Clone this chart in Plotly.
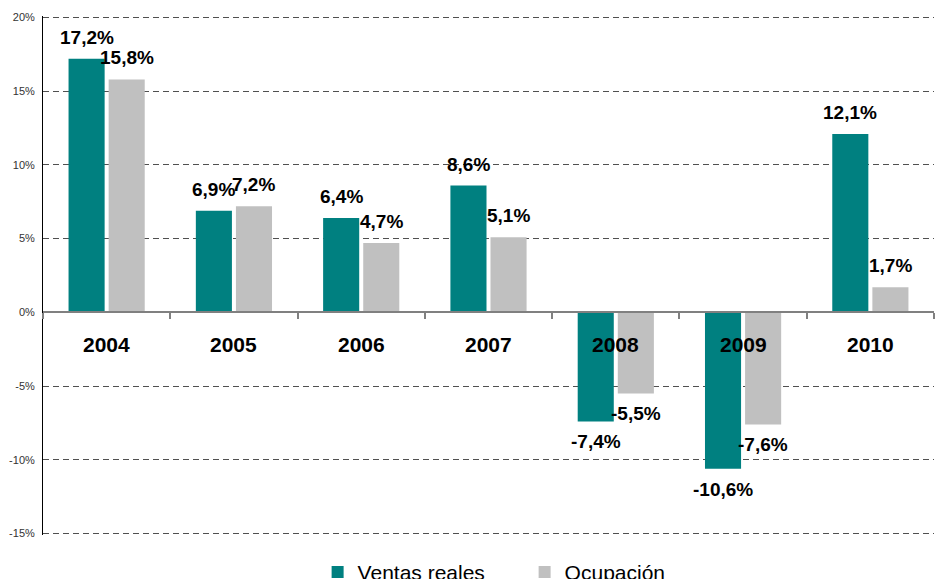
import plotly.graph_objects as go

years = ["2004", "2005", "2006", "2007", "2008", "2009", "2010"]
ventas = [17.2, 6.9, 6.4, 8.6, -7.4, -10.6, 12.1]
ocupacion = [15.8, 7.2, 4.7, 5.1, -5.5, -7.6, 1.7]
series_names = ["Ventas reales", "Ocupación"]
y_ticks = [-15, -10, -5, 0, 5, 10, 15, 20]

def fmt(v):
    return "<b>" + f"{v:.1f}".replace(".", ",") + "%</b>"

font = "Liberation Sans, Arial, sans-serif"

fig = go.Figure()
series = [(series_names[0], ventas, "#008080", -20), (series_names[1], ocupacion, "#C0C0C0", 20)]
for name, vals, col, dx in series:
    fig.add_trace(go.Bar(
        x=years, y=vals, name=name, marker=dict(color=col, line=dict(width=0)),
    ))
    for i, v in enumerate(vals):
        fig.add_annotation(
            x=i, y=v, text=fmt(v), showarrow=False, xshift=dx,
            yanchor="bottom" if v >= 0 else "top", yshift=9 if v >= 0 else -8,
            font=dict(family=font, size=19, color="#000000"))

for i, yr in enumerate(years):
    fig.add_annotation(x=i, y=-2.15, text=f"<b>{yr}</b>", showarrow=False,
                       font=dict(family=font, size=21, color="#000000"))

fig.update_layout(
    width=935, height=579,
    margin=dict(l=43, r=1, t=16, b=44, autoexpand=False),
    paper_bgcolor="white", plot_bgcolor="white",
    barmode="group", bargap=0.37, bargroupgap=0.1,
    font=dict(family=font),
    showlegend=True,
    legend=dict(orientation="h", x=0.3397, xanchor="left", xref="container",
                y=-0.072, yanchor="middle", yref="paper",
                font=dict(family=font, size=21, color="#000000"),
                traceorder="normal", entrywidth=162),
    xaxis=dict(type="category", range=[-0.5, len(years) - 0.5], anchor="free",
               position=15.1/35.2, showline=True, automargin=False,
               linecolor="#808080", linewidth=1.5,
               ticks="outside", tickson="boundaries", ticklen=6, tickcolor="#808080",
               tickwidth=1.5,
               showticklabels=False, showgrid=False, zeroline=False),
    yaxis=dict(range=[-15.1, 20.1], tickvals=y_ticks, ticktext=[f"{t}%" for t in y_ticks],
               tickfont=dict(family=font, size=11, color="#333333"),
               showgrid=True, gridcolor="#505050", griddash="6px,4px", gridwidth=1,
               zeroline=False, showline=True, linecolor="#000000", linewidth=1,
               ticks="", ticklabelstandoff=5, automargin=False),
)

fig.write_html("out.html", config={"displayModeBar": False},
               post_script="document.body.style.margin='0';")
